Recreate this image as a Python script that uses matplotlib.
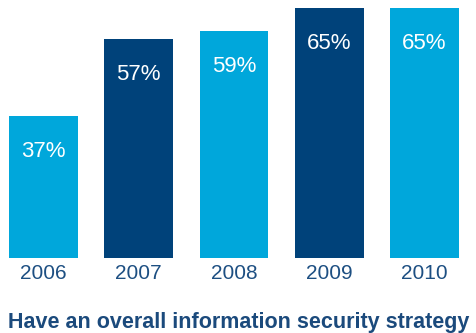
import matplotlib
matplotlib.use("Agg")
import matplotlib.pyplot as plt

years = ["2006", "2007", "2008", "2009", "2010"]
values = [37, 57, 59, 65, 65]
colors = ["#00A7DB", "#00427A", "#00A7DB", "#00427A", "#00A7DB"]
title = "Have an overall information security strategy"

W, H = 477, 333
fig = plt.figure(figsize=(W / 100, H / 100), dpi=100)
ax = fig.add_axes([0, 75 / H, 1, 250 / H])

x = list(range(len(years)))
ax.bar(x, values, width=0.7244, color=colors, edgecolor="none")
ax.set_xlim(-43.5 / 95.25, (W - 43.5) / 95.25)
ax.set_ylim(0, 65)
ax.axis("off")

for xi, v in zip(x, values):
    ax.annotate(f"{v}%", (xi, v), xytext=(0, -41), textcoords="offset pixels",
                ha="center", va="baseline", color="white", fontsize=16,
                family="Liberation Sans")
    ax.annotate(years[xi], (xi, 0), xytext=(0, -21), textcoords="offset pixels",
                ha="center", va="baseline", color="#1D4F82", fontsize=15,
                family="Liberation Sans")

fig.text(8 / W, 1 - 328 / H, title, ha="left", va="baseline", color="#1B4A7C",
         fontsize=15.5, fontweight="bold", family="Liberation Sans")

fig.savefig("out.png", dpi=100)
